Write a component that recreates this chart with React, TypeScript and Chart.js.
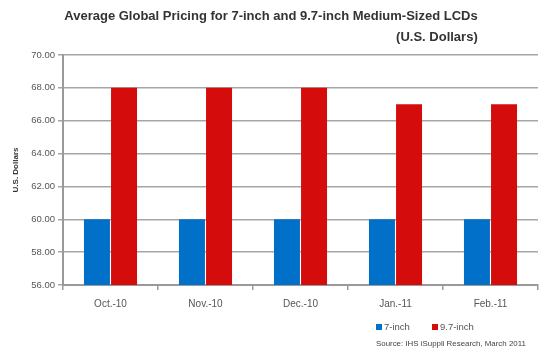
import React, { useEffect, useRef } from "react";
import { Chart, registerables } from "chart.js";

Chart.register(...registerables);

const categories = ["Oct.-10", "Nov.-10", "Dec.-10", "Jan.-11", "Feb.-11"];
const sevenInch = [60, 60, 60, 60, 60];
const nineSevenInch = [68, 68, 68, 67, 67];
const seriesNames = ["7-inch", "9.7-inch"];
const seriesColors = ["#0070C8", "#D50C0C"];
const titleLine1 = "Average Global Pricing for 7-inch and 9.7-inch Medium-Sized LCDs";
const titleLine2 = "(U.S. Dollars)";
const sourceText = "Source: IHS iSuppli Research, March 2011";
const yTitle = "U.S. Dollars";

const FONT = "'Liberation Sans', Arial, sans-serif";

const extrasPlugin = {
  id: "extras",
  afterDraw(chart: any) {
    const ctx = chart.ctx;
    ctx.save();
    ctx.fillStyle = "#333";
    ctx.font = `bold 13px ${FONT}`;
    ctx.textBaseline = "middle";
    ctx.textAlign = "center";
    const cx = 271;
    ctx.fillText(titleLine1, cx, 16);
    const w = ctx.measureText(titleLine1).width;
    ctx.textAlign = "right";
    ctx.fillText(titleLine2, cx + w / 2, 37);

    // legend
    const ds = chart.data.datasets;
    ctx.font = `9.5px ${FONT}`;
    ctx.textAlign = "left";
    const lx = [376, 432];
    ds.forEach((d: any, i: number) => {
      ctx.fillStyle = d.backgroundColor;
      ctx.fillRect(lx[i], 324, 6, 6);
      ctx.fillStyle = "#555";
      ctx.fillText(d.label, lx[i] + 8, 327);
    });
    // source
    ctx.font = `7.9px ${FONT}`;
    ctx.fillStyle = "#444";
    ctx.fillText(sourceText, 376, 344);
    ctx.restore();
  },
};

export default function App() {
  const ref = useRef<HTMLCanvasElement>(null);
  useEffect(() => {
    document.body.style.margin = "0";
    const chart = new Chart(ref.current!, {
      type: "bar",
      data: {
        labels: categories,
        datasets: [
          { label: seriesNames[0], data: sevenInch, backgroundColor: seriesColors[0] },
          { label: seriesNames[1], data: nineSevenInch, backgroundColor: seriesColors[1] },
        ],
      },
      options: {
        responsive: false,
        animation: false,
        layout: { padding: { top: 55, right: 12, bottom: 0, left: 0 } },
        datasets: { bar: { categoryPercentage: 0.57, barPercentage: 0.96 } },
        plugins: {
          legend: { display: false },
          title: { display: false },
          tooltip: { enabled: false },
        },
        scales: {
          x: {
            afterFit: (s: any) => { s.height = 72; },
            grid: {
              display: true,
              drawOnChartArea: false,
              drawTicks: true,
              tickLength: 5,
              color: "#999",
              lineWidth: 1.5,
              offset: true,
            },
            border: { color: "#999", width: 2 },
            ticks: { color: "#555", font: { family: FONT, size: 10 }, padding: 8 },
          },
          y: {
            min: 56,
            max: 70,
            afterFit: (s: any) => { s.width = 63; },
            grid: { color: "#a6a6a6", lineWidth: 1.5, tickLength: 5 },
            border: { color: "#999", width: 2 },
            title: {
              display: true,
              text: yTitle,
              color: "#333",
              font: { family: FONT, size: 8, weight: "bold" },
              padding: { top: 11, bottom: 0 },
            },
            ticks: {
              stepSize: 2,
              color: "#555",
              font: { family: FONT, size: 9.5 },
              padding: 3,
              callback: (v: any) => Number(v).toFixed(2),
            },
          },
        },
      },
      plugins: [extrasPlugin],
    });
    return () => chart.destroy();
  }, []);
  return (
    <div style={{ width: 550, height: 357 }}>
      <canvas ref={ref} width={550} height={357} />
    </div>
  );
}
